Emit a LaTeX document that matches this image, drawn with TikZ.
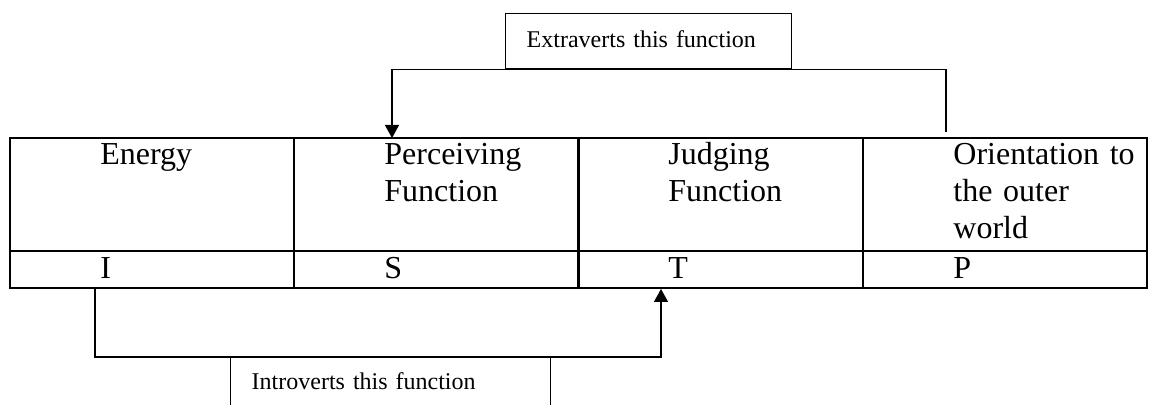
\documentclass[tikz,border=0pt]{standalone}
\usepackage{fontspec}
\setmainfont{Liberation Serif}
\usetikzlibrary{calc,arrows.meta,positioning}

\begin{document}
\begin{tikzpicture}[x=0.5pt,y=-0.5pt,
  grid/.style={line width=1.2pt},
  conn/.style={line width=0.7pt},
  head/.style={anchor=base west,inner sep=0pt,text width=100pt,align=left,font=\fontsize{16}{18.4}\selectfont},
  letter/.style={anchor=base west,inner sep=0pt,font=\fontsize{16}{18.4}\selectfont},
  tag/.style={draw,line width=0.7pt,anchor=north west,align=left,inner xsep=10.5pt,text height=8.2pt,font=\fontsize{12}{14}\selectfont}]

\useasboundingbox (0,0) rectangle (1153,405);

\coordinate (T1) at (10,138);
\coordinate (T2) at (1147,138);
\coordinate (T3) at (10,288);
\coordinate (T4) at (1147,288);
\coordinate (R1) at (10,251);
\coordinate (R2) at (1147,251);

% table
\draw[grid] (T1) rectangle (T4);
\draw[grid] (R1) -- (R2);
\draw[grid] (294.25,138) -- (294.25,288);
\draw[grid] (578.5,138) -- (578.5,288);
\draw[grid] (862.75,138) -- (862.75,288);

\node[head] (energy) at (100,165) {Energy};
\node[head] (perc) at (384,165) {Perceiving\\Function};
\node[head] (judge) at (668,165) {Judging\\Function};
\node[head] (orient) at (953,165) {Orientation to\\the outer\\world};

\node[letter] (lI) at (100,279) {I};
\node[letter] (lS) at (384,279) {S};
\node[letter] (lT) at (668,279) {T};
\node[letter] (lP) at (953,279) {P};

% labels on the connectors
\node[tag,text width=122pt,inner ysep=8.8pt,text depth=1.7pt] (extra) at (505,13) {Extraverts this function};
\node[tag,text width=139pt,inner ysep=7.8pt,text depth=16pt] (intro) at (230,357) {Introverts this function};

\coordinate (outerEnd) at (946,132);
\coordinate (percTop) at (392,138);
\coordinate (energyBot) at (95,288);
\coordinate (judgeBot) at (661,289);

\draw[conn,-{Triangle[length=6.5pt,width=7pt]}] (outerEnd) |- (extra.south) -| (percTop);
\draw[conn,-{Triangle[length=6.5pt,width=7pt]}] (energyBot) |- (intro.north) -| (judgeBot);

\end{tikzpicture}
\end{document}
